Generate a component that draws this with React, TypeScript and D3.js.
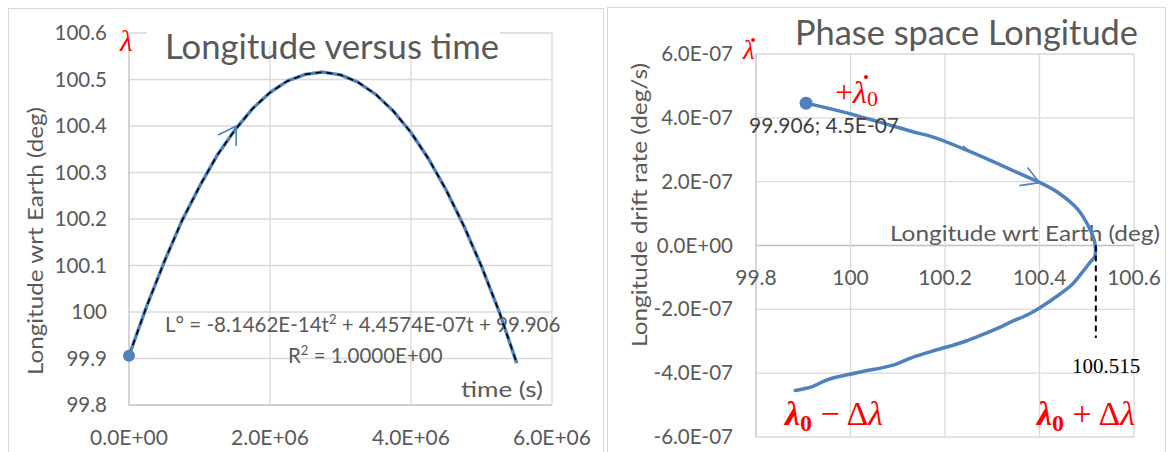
import React from 'react';
import * as d3 from 'd3';

// left chart: longitude vs time
const timeSec = [0, 0.25e6, 0.5e6, 0.75e6, 1.0e6, 1.25e6, 1.5e6, 1.75e6, 2.0e6, 2.25e6, 2.5e6, 2.75e6,
  3.0e6, 3.25e6, 3.5e6, 3.75e6, 4.0e6, 4.25e6, 4.5e6, 4.75e6, 5.0e6, 5.25e6, 5.5e6];
const longitudeDeg = [99.906, 100.012, 100.108, 100.196, 100.27, 100.337, 100.391, 100.437, 100.472, 100.497,
  100.511, 100.516, 100.51, 100.494, 100.468, 100.432, 100.386, 100.329, 100.262, 100.185, 100.098, 100.001, 99.89];

// right chart: phase space (longitude, drift rate)
const phaseLon = [99.906, 99.988, 100.058, 100.13, 100.172, 100.242, 100.306, 100.363, 100.401, 100.439, 100.481,
  100.507, 100.517, 100.517, 100.507, 100.49, 100.469, 100.433, 100.405, 100.376, 100.342, 100.306, 100.27,
  100.236, 100.185, 100.13, 100.094, 100.016, 99.952, 99.919, 99.883];
const phaseRate = [4.46e-7, 4.17e-7, 3.88e-7, 3.57e-7, 3.41e-7, 3.01e-7, 2.6e-7, 2.22e-7, 1.97e-7, 1.66e-7, 1.13e-7,
  0.5e-7, 0.09e-7, -0.34e-7, -0.53e-7, -0.85e-7, -1.22e-7, -1.63e-7, -1.91e-7, -2.16e-7, -2.38e-7, -2.63e-7, -2.85e-7,
  -3.04e-7, -3.26e-7, -3.51e-7, -3.73e-7, -3.98e-7, -4.2e-7, -4.42e-7, -4.54e-7];

const timeTicks = [0, 2e6, 4e6, 6e6];
const timeTickLabels = ['0.0E+00', '2.0E+06', '4.0E+06', '6.0E+06'];
const lonTicks = [99.8, 99.9, 100, 100.1, 100.2, 100.3, 100.4, 100.5, 100.6];
const lonTickLabels = ['99.8', '99.9', '100', '100.1', '100.2', '100.3', '100.4', '100.5', '100.6'];
const phaseXTicks = [99.8, 100, 100.2, 100.4, 100.6];
const phaseXTickLabels = ['99.8', '100', '100.2', '100.4', '100.6'];
const rateTicks = [-6e-7, -4e-7, -2e-7, 0, 2e-7, 4e-7, 6e-7];
const rateTickLabels = ['-6.0E-07', '-4.0E-07', '-2.0E-07', '0.0E+00', '2.0E-07', '4.0E-07', '6.0E-07'];
const peakLon = 100.515;

const BLUE = '#4f81bd';
const GRID = '#d9d9d9';
const AXIS = '#bfbfbf';
const TXT = '#595959';
const RED = '#ff0000';
const FONT = 'Lato, "Open Sans", sans-serif';
const SERIF = '"Liberation Serif", "DejaVu Serif", serif';

export default function App() {
  const xL = d3.scaleLinear().domain([0, 6e6]).range([129, 552]);
  const yL = d3.scaleLinear().domain([99.8, 100.6]).range([405, 33]);
  const xR = d3.scaleLinear().domain([99.8, 100.6]).range([756, 1134]);
  const yR = d3.scaleLinear().domain([-6e-7, 6e-7]).range([437, 54]);

  const lineL = d3.line<number>().x((d, i) => xL(timeSec[i])).y(d => yL(d));
  const lineR = d3.line<number>().x(d => xR(d)).y((d, i) => yR(phaseRate[i])).curve(d3.curveCatmullRom.alpha(0.5));

  const ax = xL(1.52e6), ay = yL(100.4);
  const bx = xR(100.4), by = yR(1.97e-7);
  const cx = xR(100.242), cy = yR(3.0e-7);

  return (
    <svg width={1170} height={452} style={{ position: 'absolute', left: 0, top: 0, background: '#fff' }}
      fontFamily={FONT}>
      <rect x={0} y={0} width={1170} height={452} fill="#fff" />
      {/* chart frames */}
      <rect x={8.5} y={8.5} width={595} height={460} fill="none" stroke={GRID} />
      <rect x={607.5} y={7.5} width={558} height={460} fill="none" stroke={GRID} />

      {/* ---------- left chart ---------- */}
      <g>
        {lonTicks.map(v => (
          <line key={'hl' + v} x1={xL(0)} x2={xL(6e6)} y1={yL(v)} y2={yL(v)}
            stroke={v === 99.8 ? AXIS : GRID} strokeWidth={1.3} />
        ))}
        {timeTicks.map(v => (
          <line key={'vl' + v} x1={xL(v)} x2={xL(v)} y1={yL(100.6)} y2={yL(99.8)}
            stroke={v === 0 ? AXIS : GRID} strokeWidth={1.3} />
        ))}
        <rect x={147} y={20} width={353} height={26} fill="#fff" />
        {lonTicks.map((v, i) => (
          <text key={'ly' + v} x={107} y={yL(v) + 7} textAnchor="end" fontSize={20.5} fill={TXT}>{lonTickLabels[i]}</text>
        ))}
        {timeTicks.map((v, i) => (
          <text key={'lx' + v} x={xL(v)} y={445} textAnchor="middle" fontSize={21} fill={TXT}>{timeTickLabels[i]}</text>
        ))}
        <text x={165} y={59} fontSize={34} fill={TXT} textLength={334} lengthAdjust="spacingAndGlyphs">Longitude versus time</text>
        <text transform={`translate(43,241) rotate(-90)`} textAnchor="middle" fontSize={22} fill={TXT}
          textLength={268} lengthAdjust="spacingAndGlyphs">Longitude wrt Earth (deg)</text>
        <text x={461} y={397} fontSize={21} fill={TXT} textLength={82} lengthAdjust="spacingAndGlyphs">time (s)</text>
        <text x={165} y={332} fontSize={20.5} fill={TXT}>
          L° = -8.1462E-14t<tspan fontSize={13} dy={-8}>2</tspan><tspan dy={8}> + 4.4574E-07t + 99.906</tspan>
        </text>
        <text x={288} y={363} fontSize={20.5} fill={TXT}>
          R<tspan fontSize={13} dy={-8}>2</tspan><tspan dy={8}> = 1.0000E+00</tspan>
        </text>
        <path d={lineL(longitudeDeg) || ''} fill="none" stroke={BLUE} strokeWidth={3.4} strokeLinejoin="round" />
        <path d={lineL(longitudeDeg) || ''} fill="none" stroke="#000" strokeWidth={1.6} strokeDasharray="6,5" />
        <circle cx={xL(timeSec[0])} cy={yL(longitudeDeg[0])} r={6} fill={BLUE} />
        <path d={`M${ax - 18},${ay + 9} L${ax},${ay} L${ax},${ay + 20}`} fill="none" stroke={BLUE} strokeWidth={1.6} />
        <text x={120} y={51} fontFamily={SERIF} fontStyle="italic" fontSize={29} fill={RED}>λ</text>
      </g>

      {/* ---------- right chart ---------- */}
      <g>
        {rateTicks.map(v => (
          <line key={'hr' + v} x1={xR(99.8)} x2={xR(100.6)} y1={yR(v)} y2={yR(v)}
            stroke={v === 0 ? AXIS : GRID} strokeWidth={1.3} />
        ))}
        {phaseXTicks.map(v => (
          <line key={'vr' + v} x1={xR(v)} x2={xR(v)} y1={yR(6e-7)} y2={yR(-6e-7)}
            stroke={v === 99.8 ? AXIS : GRID} strokeWidth={1.3} />
        ))}
        <rect x={798} y={20} width={336} height={30} fill="#fff" />
        {rateTicks.map((v, i) => (
          <text key={'ry' + v} x={733} y={yR(v) + 7} textAnchor="end" fontSize={20.5} fill={TXT}>{rateTickLabels[i]}</text>
        ))}
        {phaseXTicks.map((v, i) => (
          <text key={'rx' + v} x={xR(v)} y={285} textAnchor="middle" fontSize={21} fill={TXT}>{phaseXTickLabels[i]}</text>
        ))}
        <text x={795} y={45} fontSize={34} fill={TXT} textLength={343} lengthAdjust="spacingAndGlyphs">Phase space Longitude</text>
        <text transform={`translate(647,205) rotate(-90)`} textAnchor="middle" fontSize={22} fill={TXT}
          textLength={284} lengthAdjust="spacingAndGlyphs">Longitude drift rate (deg/s)</text>
        <text x={890} y={241} fontSize={22} fill={TXT} textLength={270} lengthAdjust="spacingAndGlyphs">Longitude wrt Earth (deg)</text>
        <path d={lineR(phaseLon) || ''} fill="none" stroke={BLUE} strokeWidth={3.5} strokeLinejoin="round" strokeLinecap="round" />
        <circle cx={xR(phaseLon[0])} cy={yR(phaseRate[0])} r={6.5} fill={BLUE} />
        <text x={749} y={133} fontSize={20.5} fill="#404040" textLength={150} lengthAdjust="spacingAndGlyphs">99.906; 4.5E-07</text>
        <path d={`M${bx - 12},${by - 15} L${bx},${by} L${bx - 20},${by + 3}`} fill="none" stroke={BLUE} strokeWidth={1.6} />
        <path d={`M${cx - 2},${cy - 4} L${cx + 4},${cy + 1}`} fill="none" stroke={BLUE} strokeWidth={1.6} />
        <line x1={xR(peakLon) + 2} x2={xR(peakLon) + 2} y1={yR(0)} y2={yR(-2.9e-7)} stroke="#000" strokeWidth={2} strokeDasharray="6,4" />
        <text x={1106} y={373} textAnchor="middle" fontFamily={SERIF} fontSize={21} fill="#000">100.515</text>

        {/* red math annotations (dots of the time derivative drawn as small circles) */}
        <text x={743} y={59} fontFamily={SERIF} fontStyle="italic" fontSize={27} fill={RED}>λ</text>
        <circle cx={753} cy={40} r={1.9} fill={RED} />
        <text x={835} y={103} fontFamily={SERIF} fontSize={32} fill={RED}>
          +<tspan fontStyle="italic">λ</tspan><tspan fontSize={22} dy={3}>0</tspan>
        </text>
        <circle cx={866} cy={77} r={2.1} fill={RED} />
        <text x={785} y={425} fontFamily={SERIF} fontSize={34} fill={RED}>
          <tspan fontWeight="bold" fontStyle="italic">λ</tspan><tspan fontWeight="bold" fontSize={24} dy={6}>0</tspan>
          <tspan dy={-6}> − Δ</tspan><tspan fontStyle="italic">λ</tspan>
        </text>
        <text x={1037} y={425} fontFamily={SERIF} fontSize={34} fill={RED}>
          <tspan fontWeight="bold" fontStyle="italic">λ</tspan><tspan fontWeight="bold" fontSize={24} dy={6}>0</tspan>
          <tspan dy={-6}> + Δ</tspan><tspan fontStyle="italic">λ</tspan>
        </text>
      </g>
    </svg>
  );
}
